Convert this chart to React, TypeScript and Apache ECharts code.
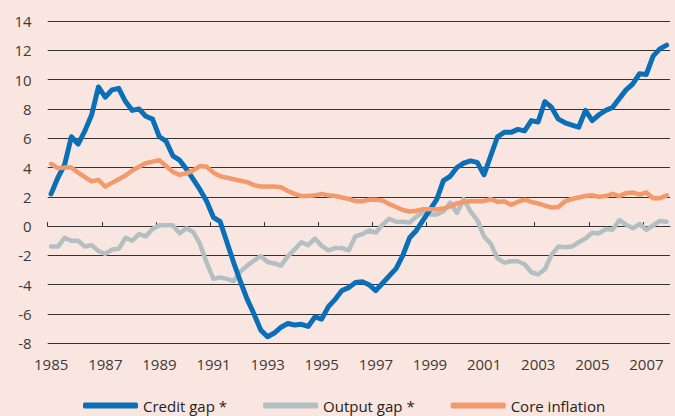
import React, { useEffect, useRef } from "react";
import * as echarts from "echarts";

const startYear = 1985;
const yearTicks = [1985, 1987, 1989, 1991, 1993, 1995, 1997, 1999, 2001, 2003, 2005, 2007];
const yTicks = [-8, -6, -4, -2, 0, 2, 4, 6, 8, 10, 12, 14];

const creditGap = [
  2.2, 3.3, 4.2, 6.1, 5.6, 6.5, 7.6, 9.5, 8.8, 9.3, 9.4, 8.5,
  7.9, 8.0, 7.5, 7.3, 6.1, 5.8, 4.8, 4.5, 3.9, 3.2, 2.5, 1.7,
  0.6, 0.3, -1.1, -2.5, -3.8, -5.0, -6.0, -7.1, -7.55, -7.3, -6.9, -6.65,
  -6.75, -6.7, -6.85, -6.2, -6.35, -5.5, -5.0, -4.4, -4.2, -3.85, -3.8, -4.0,
  -4.4, -3.9, -3.4, -2.9, -2.0, -0.8, -0.3, 0.4, 1.1, 1.8, 3.1, 3.4,
  4.0, 4.3, 4.45, 4.35, 3.5, 4.8, 6.1, 6.4, 6.4, 6.6, 6.5, 7.2,
  7.1, 8.5, 8.1, 7.3, 7.05, 6.9, 6.75, 7.9, 7.2, 7.6, 7.9, 8.1,
  8.7, 9.3, 9.7, 10.4, 10.35, 11.6, 12.1, 12.35,
];

const outputGap = [
  -1.4, -1.4, -0.8, -1.0, -1.0, -1.4, -1.3, -1.7, -1.9, -1.6, -1.55, -0.8,
  -1.0, -0.55, -0.7, -0.2, 0.05, 0.05, 0.05, -0.5, -0.15, -0.4, -1.2, -2.5,
  -3.6, -3.5, -3.6, -3.75, -3.1, -2.7, -2.35, -2.05, -2.45, -2.55, -2.7, -2.05,
  -1.6, -1.1, -1.3, -0.85, -1.35, -1.65, -1.5, -1.5, -1.65, -0.7, -0.55, -0.3,
  -0.45, 0.1, 0.5, 0.3, 0.3, 0.25, 0.65, 0.95, 0.8, 0.8, 1.0, 1.6,
  0.9, 1.85, 1.0, 0.4, -0.7, -1.2, -2.2, -2.5, -2.4, -2.4, -2.6, -3.15,
  -3.3, -2.95, -1.95, -1.4, -1.45, -1.4, -1.1, -0.85, -0.45, -0.5, -0.2, -0.25,
  0.4, 0.1, -0.15, 0.15, -0.25, 0.05, 0.35, 0.3,
];

const coreInflation = [
  4.25, 3.95, 4.0, 4.0, 3.65, 3.35, 3.05, 3.15, 2.7, 2.95, 3.2, 3.45,
  3.8, 4.05, 4.3, 4.4, 4.5, 4.1, 3.7, 3.5, 3.6, 3.8, 4.1, 4.05,
  3.65, 3.4, 3.3, 3.2, 3.1, 3.0, 2.8, 2.7, 2.7, 2.7, 2.65, 2.4,
  2.2, 2.05, 2.05, 2.1, 2.2, 2.1, 2.05, 1.95, 1.85, 1.7, 1.7, 1.8,
  1.8, 1.75, 1.5, 1.3, 1.1, 1.0, 1.05, 1.15, 1.15, 1.15, 1.2, 1.35,
  1.55, 1.65, 1.7, 1.7, 1.7, 1.85, 1.65, 1.7, 1.45, 1.65, 1.8, 1.65,
  1.55, 1.4, 1.27, 1.3, 1.7, 1.85, 1.95, 2.05, 2.1, 2.0, 2.05, 2.2,
  2.05, 2.25, 2.3, 2.15, 2.3, 1.9, 1.9, 2.1,
];

const seriesNames = ["Credit gap *", "Output gap *", "Core inflation"];
const colors = { credit: "#0a6fb7", output: "#b3bfc3", core: "#f39a6c" };

// quarterly observations, plotted at mid-quarter, x measured in years since 1985
const toPoints = (vals: number[]) => vals.map((v, i) => [(i + 0.5) / 4, v]);

const FONT = "'Open Sans', 'Noto Sans', sans-serif";
const TEXT = "#3a3a3a";

export default function App() {
  const ref = useRef<HTMLDivElement>(null);
  useEffect(() => {
    if (!ref.current) return;
    const chart = echarts.init(ref.current, null, { renderer: "svg" });
    const tickOffsets = yearTicks.map((y) => y - startYear);
    chart.setOption({
      animation: false,
      backgroundColor: "#fae6e0",
      textStyle: { fontFamily: FONT },
      grid: { left: 47.7, right: 5, top: 21, bottom: 72.7, containLabel: false },
      legend: {
        top: 398,
        left: 83,
        padding: 0,
        itemWidth: 55,
        itemHeight: 6,
        itemGap: 36,
        icon: "roundRect",
        data: seriesNames,
        textStyle: { fontFamily: FONT, fontSize: 15, color: "#222" },
      },
      xAxis: [
        {
          type: "value",
          min: 0,
          max: 23,
          axisLine: { show: true, onZero: true, lineStyle: { color: "#333", width: 1 } },
          axisTick: {
            show: true,
            inside: true,
            length: 4,
            customValues: tickOffsets,
            lineStyle: { color: "#333", width: 1 },
          },
          axisLabel: { show: false },
          splitLine: { show: false },
        },
        {
          type: "value",
          min: 0,
          max: 23,
          position: "bottom",
          axisLine: { show: false, onZero: false },
          axisTick: { show: false },
          splitLine: { show: false },
          axisLabel: {
            show: true,
            customValues: tickOffsets,
            formatter: (v: number) => String(startYear + Math.round(v)),
            fontFamily: FONT,
            fontSize: 15,
            color: TEXT,
            margin: 13,
            padding: [0, 0, 0, 7],
          },
        },
      ],
      yAxis: {
        type: "value",
        min: -8,
        max: 14,
        interval: 2,
        axisLine: { show: false },
        axisTick: { show: false },
        axisLabel: { fontFamily: FONT, fontSize: 15, color: TEXT, margin: 16 },
        splitLine: { show: true, lineStyle: { color: "#333", width: 1 } },
      },
      series: [
        {
          name: seriesNames[1],
          type: "line",
          xAxisIndex: 0,
          data: toPoints(outputGap),
          showSymbol: false,
          color: colors.output,
          lineStyle: { width: 4.5, color: colors.output, cap: "round", join: "round" },
          z: 2,
        },
        {
          name: seriesNames[0],
          type: "line",
          xAxisIndex: 0,
          data: toPoints(creditGap),
          showSymbol: false,
          color: colors.credit,
          lineStyle: { width: 5, color: colors.credit, cap: "round", join: "round" },
          z: 3,
        },
        {
          name: seriesNames[2],
          type: "line",
          xAxisIndex: 0,
          data: toPoints(coreInflation),
          showSymbol: false,
          color: colors.core,
          lineStyle: { width: 4.5, color: colors.core, cap: "round", join: "round" },
          z: 4,
        },
      ],
    });
    return () => chart.dispose();
  }, []);
  return (
    <div
      ref={ref}
      style={{ position: "fixed", left: 0, top: 0, width: 675, height: 416, background: "#fae6e0" }}
    />
  );
}
